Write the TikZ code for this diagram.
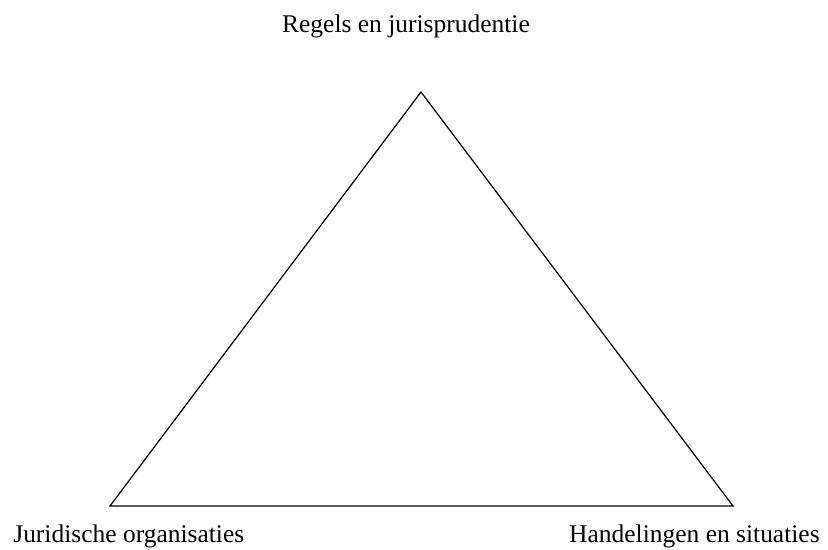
\documentclass[tikz,border=0pt]{standalone}
\usepackage{fontspec}
\setmainfont{Liberation Serif}
\usepackage{tikz}

\begin{document}
\begin{tikzpicture}[x=0.02cm,y=-0.02cm,
    hoek/.style={font=\fontsize{14.5}{16}\selectfont, inner sep=0pt}]
                        \useasboundingbox (0,0) rectangle (828,550);
                        \coordinate (top) at (421,92);
                        \coordinate (links) at (110,506);
                        \coordinate (rechts) at (733,506);
                        \draw[line width=0.7pt, line join=miter] (top) -- (links) -- (rechts) -- cycle;
                        \node[hoek, anchor=base] (regels) at (406,33) {Regels en jurisprudentie};
                        \node[hoek, anchor=base west] (org) at (13,542) {Juridische organisaties};
                        \node[hoek, anchor=base east] (hand) at (820,542) {Handelingen en situaties};
                    \end{tikzpicture}
\end{document}
